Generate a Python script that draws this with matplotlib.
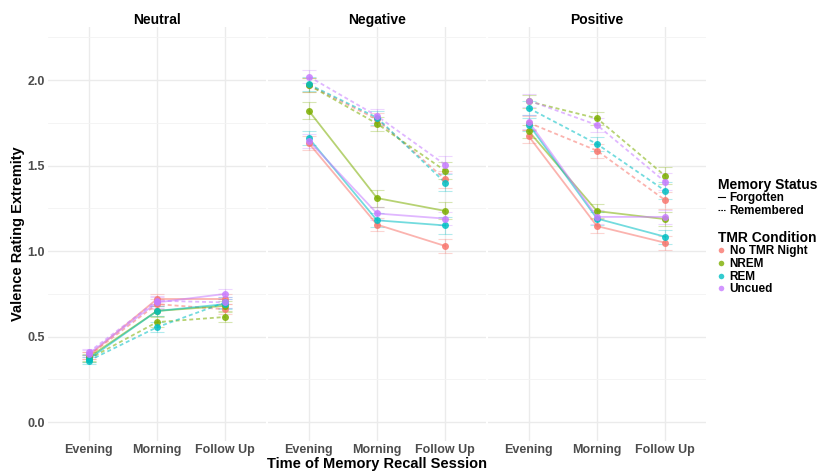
import matplotlib.pyplot as plt
from matplotlib.lines import Line2D

sessions = ["Evening", "Morning", "Follow Up"]
valences = ["Neutral", "Negative", "Positive"]
conditions = ["No TMR Night", "NREM", "REM", "Uncued"]
colors = ["#F8766D", "#7CAE00", "#00BFC4", "#C77CFF"]

# mean valence rating extremity, one list of 3 sessions per TMR condition
neutral_forgotten = [[0.39, 0.72, 0.72], [0.38, 0.65, 0.68], [0.37, 0.65, 0.69], [0.40, 0.70, 0.75]]
neutral_remembered = [[0.39, 0.69, 0.66], [0.37, 0.585, 0.615], [0.36, 0.555, 0.70], [0.41, 0.71, 0.70]]
negative_forgotten = [[1.63, 1.155, 1.03], [1.82, 1.31, 1.235], [1.66, 1.18, 1.15], [1.645, 1.22, 1.19]]
negative_remembered = [[1.97, 1.77, 1.42], [1.97, 1.745, 1.47], [1.975, 1.78, 1.40], [2.02, 1.79, 1.505]]
positive_forgotten = [[1.67, 1.146, 1.049], [1.70, 1.234, 1.187], [1.74, 1.19, 1.084], [1.756, 1.20, 1.20]]
positive_remembered = [[1.75, 1.587, 1.298], [1.875, 1.776, 1.44], [1.835, 1.626, 1.353], [1.88, 1.737, 1.405]]

# standard errors (same layout)
neutral_se_f = [[0.02, 0.03, 0.03], [0.02, 0.03, 0.03], [0.02, 0.03, 0.03], [0.02, 0.03, 0.03]]
neutral_se_r = [[0.02, 0.03, 0.03], [0.02, 0.03, 0.03], [0.02, 0.03, 0.03], [0.02, 0.03, 0.03]]
negative_se_f = [[0.04, 0.04, 0.04], [0.05, 0.05, 0.05], [0.04, 0.04, 0.05], [0.04, 0.04, 0.04]]
negative_se_r = [[0.04, 0.04, 0.05], [0.04, 0.04, 0.05], [0.04, 0.04, 0.05], [0.04, 0.04, 0.05]]
positive_se_f = [[0.04, 0.04, 0.04], [0.04, 0.04, 0.04], [0.04, 0.04, 0.04], [0.04, 0.04, 0.04]]
positive_se_r = [[0.04, 0.04, 0.05], [0.04, 0.04, 0.05], [0.04, 0.04, 0.05], [0.04, 0.04, 0.05]]

panels = {
    "Neutral": (neutral_forgotten, neutral_remembered, neutral_se_f, neutral_se_r),
    "Negative": (negative_forgotten, negative_remembered, negative_se_f, negative_se_r),
    "Positive": (positive_forgotten, positive_remembered, positive_se_f, positive_se_r),
}

plt.rcParams["font.family"] = ["Liberation Sans", "DejaVu Sans"]
plt.rcParams["font.weight"] = "bold"

fig = plt.figure(figsize=(8.21, 4.71), dpi=100)
W, H = 821, 471
lefts = [48, 268, 488]
pw = 218
top, bottom = 27, 441
dashes = (2.2, 1.6)

axes = []
for i, name in enumerate(valences):
    ax = fig.add_axes([lefts[i] / W, 1 - bottom / H, pw / W, (bottom - top) / H])
    axes.append(ax)
    forg, rem, se_f, se_r = panels[name]
    x = range(len(sessions))
    for c in range(4):
        for vals, se, ls in [(forg[c], se_f[c], "-"), (rem[c], se_r[c], "--")]:
            ax.errorbar(x, vals, yerr=se, fmt="none", ecolor=colors[c], alpha=0.3,
                        elinewidth=0.8, capsize=5, capthick=0.8, zorder=2)
            line, = ax.plot(x, vals, ls, color=colors[c], lw=1.3, alpha=0.55, zorder=3)
            if ls == "--":
                line.set_dashes(dashes)
            ax.plot(x, vals, "o", color=colors[c], ms=5, alpha=0.85, mec="none", zorder=4)

    ax.set_xlim(-0.6, 2.6)
    ax.set_ylim(-0.11, 2.31)
    ax.set_xticks(range(3))
    ax.set_xticklabels(sessions)
    ax.set_yticks([0.0, 0.5, 1.0, 1.5, 2.0])
    ax.set_yticks([0.25, 0.75, 1.25, 1.75, 2.25], minor=True)
    ax.grid(True, which="major", color="#EBEBEB", lw=1.0)
    ax.grid(True, which="minor", axis="y", color="#F3F3F3", lw=0.6)
    ax.set_axisbelow(True)
    for s in ax.spines.values():
        s.set_visible(False)
    ax.tick_params(length=0, labelsize=9, labelcolor="#4D4D4D", pad=2)
    ax.tick_params(axis="y", pad=2)
    ax.tick_params(which="minor", length=0)
    if i == 0:
        ax.set_yticklabels(["0.0", "0.5", "1.0", "1.5", "2.0"])
    else:
        ax.set_yticklabels([])
    ax.set_title(name, fontsize=10, fontweight="bold", pad=2)

fig.text(377 / W, 1 - 464 / H, "Time of Memory Recall Session", ha="center", va="center",
         fontsize=10.5, fontweight="bold")
fig.text(18 / W, 1 - 234 / H, "Valence Rating Extremity", ha="center", va="center",
         rotation=90, fontsize=10.5, fontweight="bold")

ls_handles = [Line2D([], [], color="black", lw=0.8),
              Line2D([], [], color="black", lw=0.8, dashes=(1.5, 1))]
leg1 = fig.legend(ls_handles, ["Forgotten", "Remembered"], title="Memory Status",
                  loc="upper left", bbox_to_anchor=(712 / W, 1 - 172 / H), frameon=False,
                  handlelength=0.6, handletextpad=0.4, labelspacing=0.05, borderpad=0,
                  fontsize=8.5, title_fontproperties={"weight": "bold", "size": 10},
                  alignment="left")
pt_handles = [Line2D([], [], ls="none", marker="o", ms=4, color=c, alpha=0.8, mec="none")
              for c in colors]
leg2 = fig.legend(pt_handles, conditions, title="TMR Condition",
                  loc="upper left", bbox_to_anchor=(712 / W, 1 - 225 / H), frameon=False,
                  handlelength=0.6, handletextpad=0.4, labelspacing=0.05, borderpad=0,
                  fontsize=8.5, title_fontproperties={"weight": "bold", "size": 10},
                  alignment="left")

fig.savefig("out.png", dpi=100, facecolor="white")
